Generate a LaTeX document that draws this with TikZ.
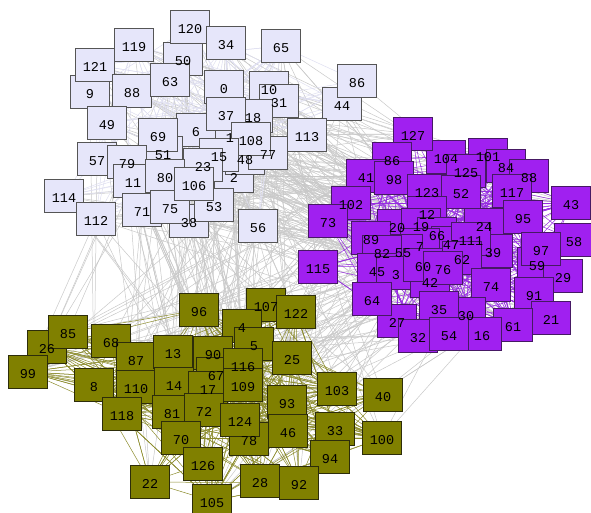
\documentclass[tikz,border=0pt]{standalone}
\usepackage{fontspec}
\setmonofont{Liberation Mono}
\usetikzlibrary{backgrounds}
\definecolor{lavfill}{RGB}{230,230,250}
\definecolor{lavline}{RGB}{85,85,85}
\definecolor{lavlink}{RGB}{222,222,240}
\definecolor{purfill}{RGB}{160,32,240}
\definecolor{purline}{RGB}{70,25,100}
\definecolor{purlink}{RGB}{150,45,225}
\definecolor{olifill}{RGB}{128,128,0}
\definecolor{oliline}{RGB}{45,45,10}
\definecolor{olilink}{RGB}{140,140,45}
\definecolor{crosslink}{RGB}{200,200,200}

\begin{document}
\begin{tikzpicture}[x=1pt, y=-1pt,
  vbox/.style={rectangle, line width=1pt, minimum width=39pt,
               minimum height=33pt, inner sep=0pt},
  lavbox/.style={vbox, fill=lavfill, draw=lavline},
  purbox/.style={vbox, fill=purfill, draw=purline},
  olibox/.style={vbox, fill=olifill, draw=oliline},
  vlabel/.style={inner sep=0pt, font=\ttfamily\fontsize{13.5}{13.5}\selectfont},
  link/.style={line width=0.5pt}
]
  \useasboundingbox (0,0) rectangle (591,512);

  % boxes of the three groups
  \begin{scope}[yshift=2pt]
    \foreach \lbl/\x/\y [count=\k] in {50/183/61, 120/190/29, 34/226/45,
        119/134/47, 9/90/94, 121/95/67, 88/132/93, 63/170/82, 49/107/125,
        65/281/48, 0/224/89, 10/269/90, 31/279/103, 44/342/106, 86/357/83,
        18/253/118, 1/230/138, 6/196/132, 37/226/116, 51/163/155,
        69/158/137, 57/97/161, 79/127/164, 11/133/183, 2/234/178,
        48/245/160, 77/268/155, 108/251/141, 113/307/137, 15/219/157,
        23/203/167, 80/165/178, 38/189/223, 71/142/212, 75/170/209,
        53/214/207, 106/194/186, 56/258/228, 114/64/198, 112/96/221}
      \node[lavbox] (lav\k) at (\x,\y) {};
    \foreach \lbl/\x/\y [count=\k] in {104/446/159, 101/488/157,
        84/506/168, 88/529/178, 127/413/136, 86/392/161, 41/366/178,
        98/394/180, 102/351/205, 73/328/223, 123/427/193, 125/466/173,
        52/461/194, 117/512/193, 43/571/205, 12/427/215, 20/397/228,
        19/421/227, 66/437/236, 24/484/227, 95/523/219, 58/574/242,
        39/493/253, 59/537/266, 29/563/278, 97/541/251, 47/451/245,
        111/471/241, 7/420/247, 55/403/253, 89/371/240, 82/382/254,
        45/377/272, 3/396/275, 42/430/283, 62/462/260, 60/423/267,
        76/443/270, 74/491/287, 91/534/296, 21/551/320, 61/513/327,
        30/466/316, 16/482/336, 35/439/310, 27/397/323, 64/372/301,
        32/418/338, 54/449/336, 115/318/269}
      \node[purbox] (pur\k) at (\x,\y) {};
    \foreach \lbl/\x/\y [count=\k] in {26/47/349, 85/68/334, 99/28/374,
        68/111/343, 87/136/361, 8/94/387, 110/136/389, 13/173/354,
        14/174/386, 118/122/416, 96/199/312, 107/266/307, 122/296/314,
        4/242/328, 5/254/346, 90/213/355, 67/216/376, 17/208/390,
        116/243/367, 109/243/387, 25/292/360, 81/172/414, 72/204/412,
        70/181/440, 78/249/441, 124/240/422, 93/287/404, 46/288/433,
        103/337/391, 40/383/397, 33/335/431, 100/382/440, 94/330/459,
        126/203/466, 22/150/484, 28/260/483, 92/299/485, 105/212/503}
      \node[olibox] (oli\k) at (\x,\y) {};
  \end{scope}

  % numbers on top of the boxes
  \foreach \lbl [count=\k] in {50,120,34,119,9,121,88,63,49,65,0,10,31,44,
      86,18,1,6,37,51,69,57,79,11,2,48,77,108,113,15,23,80,38,71,75,53,
      106,56,114,112}
    \node[vlabel, yshift=-2pt] at (lav\k) {\lbl};
  \foreach \lbl [count=\k] in {104,101,84,88,127,86,41,98,102,73,123,125,
      52,117,43,12,20,19,66,24,95,58,39,59,29,97,47,111,7,55,89,82,45,3,
      42,62,60,76,74,91,21,61,30,16,35,27,64,32,54,115}
    \node[vlabel, yshift=-2pt] at (pur\k) {\lbl};
  \foreach \lbl [count=\k] in {26,85,99,68,87,8,110,13,14,118,96,107,122,
      4,5,90,67,17,116,109,25,81,72,70,78,124,93,46,103,40,33,100,94,126,
      22,28,92,105}
    \node[vlabel, yshift=-2pt] at (oli\k) {\lbl};

  % links
  \begin{scope}[on background layer]
    \pgfmathsetseed{31}
    \foreach \i in {1,...,170} {
      \pgfmathrandominteger{\ra}{1}{40}
      \pgfmathrandominteger{\rb}{1}{50}
      \draw[link, crosslink] (lav\ra.center) -- (pur\rb.center);
    }
    \foreach \i in {1,...,110} {
      \pgfmathrandominteger{\ra}{1}{40}
      \pgfmathrandominteger{\rb}{1}{38}
      \draw[link, crosslink] (lav\ra.center) -- (oli\rb.center);
    }
    \foreach \i in {1,...,90} {
      \pgfmathrandominteger{\ra}{1}{50}
      \pgfmathrandominteger{\rb}{1}{38}
      \draw[link, crosslink] (pur\ra.center) -- (oli\rb.center);
    }
    \foreach \i in {1,...,220} {
      \pgfmathrandominteger{\ra}{1}{40}
      \pgfmathrandominteger{\rb}{1}{40}
      \draw[link, lavlink] (lav\ra.center) -- (lav\rb.center);
    }
    \foreach \i in {1,...,450} {
      \pgfmathrandominteger{\ra}{1}{50}
      \pgfmathrandominteger{\rb}{1}{50}
      \draw[link, purlink] (pur\ra.center) -- (pur\rb.center);
    }
    \foreach \i in {1,...,400} {
      \pgfmathrandominteger{\ra}{1}{38}
      \pgfmathrandominteger{\rb}{1}{38}
      \draw[link, olilink] (oli\ra.center) -- (oli\rb.center);
    }
  \end{scope}
\end{tikzpicture}
\end{document}
